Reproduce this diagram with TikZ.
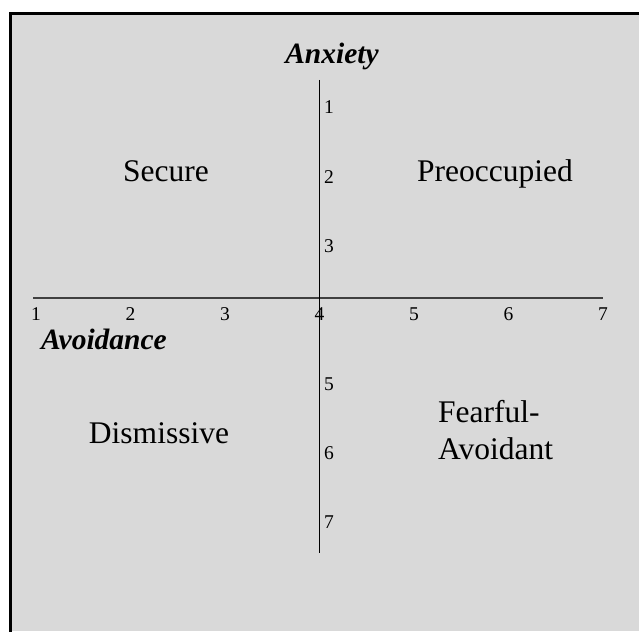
\documentclass[tikz,border=0pt]{standalone}
\usepackage{fontspec}
\setmainfont{Liberation Serif}
\definecolor{panelgray}{RGB}{217,217,217}
\definecolor{axisgray}{RGB}{64,64,64}
\begin{document}
\begin{tikzpicture}[
	x=1pt, y=-1pt,
	axis/.style={line width=1.5pt},
	tick/.style={
		inner sep=0pt,
		anchor=base,
		font=\fontsize{19.5}{23}\selectfont
	},
	axislabel/.style={
		inner sep=0pt,
		anchor=base,
		font=\fontsize{29.5}{34}\selectfont\bfseries\itshape
	},
	quadrant/.style={
		inner sep=0pt,
		anchor=base,
		font=\fontsize{31.5}{37}\selectfont
	}
]
\useasboundingbox (0,0) rectangle (639,631);

% Fondo y marco
\fill[white] (0,0) rectangle (639,631);
\fill[panelgray] (10,14) rectangle (639,631);
\draw[line width=3pt] (10,640) -- (10,14) -- (645,14);

% Ejes
\coordinate (avoidL) at (33,298);
\coordinate (avoidR) at (603,298);
\coordinate (anxTop) at (319.5,80);
\coordinate (anxBot) at (319.5,553);
\draw[axis, axisgray] (avoidL) -- (avoidR);
\draw[axis] (anxTop) -- (anxBot);

% Escala horizontal
\foreach \i in {1,...,7}
	\node[tick] (avoid\i) at ({36+(\i-1)*94.5},320) {\i};

% Escala vertical
\foreach \i in {1,2,3,5,6,7}
	\node[tick] (anx\i) at (329,{114+(\i-1)*69}) {\i};

% Rótulos de los ejes
\node[axislabel] (anxlabel) at (332,64) {Anxiety};
\node[axislabel, anchor=base west] (avoidlabel) at (41,349) {Avoidance};

% Cuadrantes
\node[quadrant] (secure) at (166,182) {Secure};
\node[quadrant] (preocc) at (495,182) {Preoccupied};
\node[quadrant] (dismiss) at (159,443) {Dismissive};
\node[quadrant, anchor=base west, align=left] (fearful) at (438,459) {Fearful-\\Avoidant};

\end{tikzpicture}
\end{document}
